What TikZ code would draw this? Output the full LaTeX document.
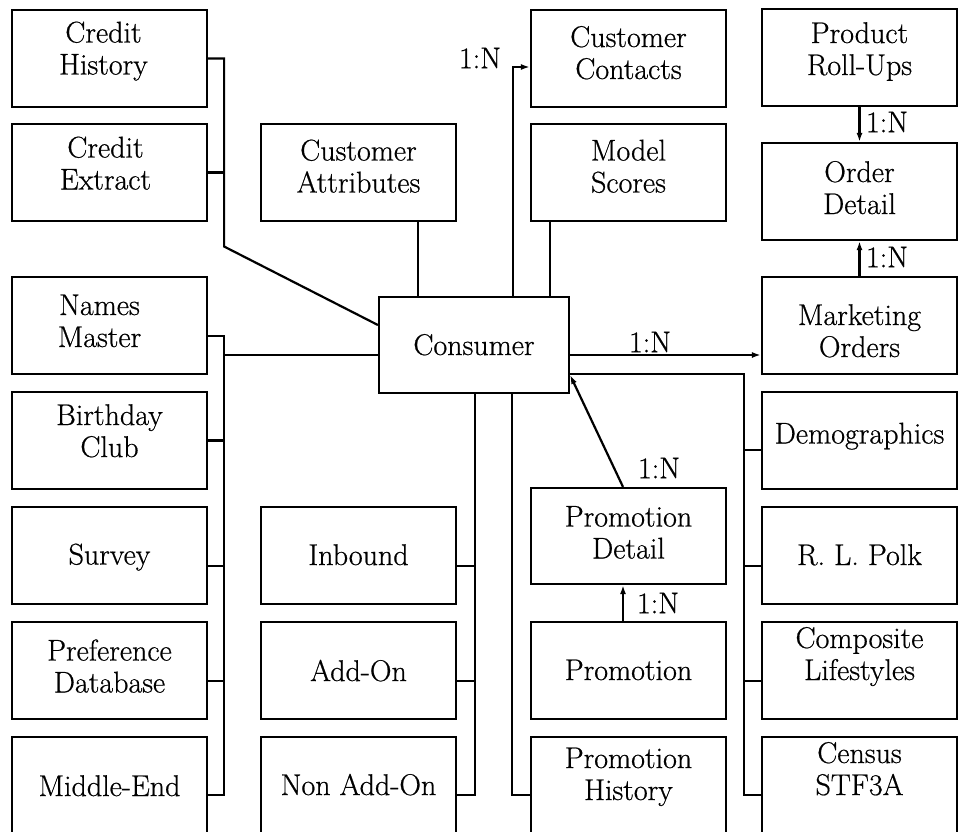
\documentclass[tikz,border=0pt]{standalone}
\usepackage{fontspec}
\setmainfont{Latin Modern Roman}[FakeBold=0.6]
\usetikzlibrary{arrows.meta,calc}

% two centred lines whose reference point is the first baseline
\newcommand{\duo}[2]{\begin{tabular}[t]{@{}c@{}}#1\\#2\end{tabular}}

\tikzset{
  ent/.style={draw, line width=2.2pt, minimum width=195pt, minimum height=97pt,
              inner sep=0pt, text height=21pt, text depth=#1},
  ent/.default=3pt,
  tall/.style={minimum height=143pt},
  link/.style={line width=2.2pt},
  arr/.style={link, -{Latex[length=9pt,width=6pt]}},
  card/.style={inner sep=0pt},
}

\begin{document}
\begin{tikzpicture}[x=1pt, y=-1pt, font=\fontsize{30}{32}\selectfont]
\useasboundingbox (0,0) rectangle (958,831);
\clip (0,0) rectangle (958,831);

% ---- entities ----
\node[ent=1pt, minimum width=190pt, minimum height=96pt] (con) at (474,345) {Consumer};

\node[ent=53pt] (ch)  at (109.5,58.5)  {\hspace*{-12pt}\duo{Credit}{History}};
\node[ent=51pt] (ce)  at (109.5,172.5) {\hspace*{-8pt}\duo{Credit}{Extract}};
\node[ent=42pt] (nm)  at (109.5,325.5) {\hspace*{-20pt}\duo{Names}{Master}};
\node[ent=52pt] (bc)  at (109.5,440.5) {\duo{Birthday}{Club}};
\node[ent=3pt]  (sv)  at (109.5,555.5) {Survey};
\node[ent=41pt] (pdb) at (109.5,670.5) {\duo{Preference}{Database}};
\node[ent=46pt, tall] (me) at (109.5,808.5) {Middle-End};

\node[ent=45pt] (ca)  at (358.5,172.5) {\duo{Customer}{Attributes}};
\node[ent=2pt]  (ib)  at (358.5,555.5) {Inbound};
\node[ent=0pt]  (ao)  at (358.5,670.5) {Add-On};
\node[ent=48pt, tall] (nao) at (358.5,808.5) {Non Add-On};

\node[ent=44pt] (cc)  at (628.5,58.5)  {\duo{Customer}{Contacts}};
\node[ent=45pt] (ms)  at (628.5,172.5) {\duo{Model}{Scores}};
\node[ent=40pt, minimum height=96pt] (prd) at (628.5,536) {\duo{Promotion}{Detail}};
\node[ent=2pt]  (pr)  at (628.5,670.5) {Promotion};
\node[ent=102pt, tall] (ph) at (628.5,808.5) {\duo{Promotion}{History}};

\node[ent=50pt] (pru) at (859.5,57.5)  {\duo{Product}{Roll-Ups}};
\node[ent=40pt] (od)  at (859.5,191.5) {\duo{Order}{Detail}};
\node[ent=22pt] (mo)  at (859.5,325.5) {\duo{Marketing}{Orders}};
\node[ent=15pt] (dm)  at (859.5,440.5) {Demographics};
\node[ent=2pt]  (rlp) at (859.5,555.5) {R. L. Polk};
\node[ent=66pt] (cl)  at (859.5,670.5) {\duo{Composite}{Lifestyles}};
\node[ent=112pt, tall] (cs) at (859.5,808.5) {\duo{Census}{STF3A}};

% ---- left bus ----
\draw[link] (ch.east) -- ++(16,0) -- ++(0,188) -- ($(con.west)+(0,-20)$);
\draw[link] (ce.east) -- ++(16,0);
\coordinate (nmC) at ($(nm.east)+(0,10.5)$);
\coordinate (lb)  at ($(nmC)+(16,0)$);
\coordinate (meC) at ($(me.east)+(0,-13.5)$);
\draw[link] (nmC) -- (lb) -- (lb |- meC) -- (meC);
\draw[link] (bc.east) -- (bc.east -| lb);
\coordinate (svC) at ($(sv.east)+(0,10.5)$);
\draw[link] (svC) -- (svC -| lb);
\coordinate (pdbC) at ($(pdb.east)+(0,10.5)$);
\draw[link] (pdbC) -- (pdbC -| lb);
\coordinate (cwC) at ($(con.west)+(0,10)$);
\draw[link] (cwC) -- (cwC -| lb);

% ---- links above the consumer ----
\coordinate (caC) at ($(ca.south)+(59.5,0)$);
\draw[link] (caC) -- (caC |- con.north);
\coordinate (ccS) at ($(con.north)+(39,0)$);
\coordinate (ccC) at ($(cc.west)+(0,8.5)$);
\draw[arr] (ccS) |- (ccC);
\coordinate (msC) at ($(ms.south)+(-78.5,0)$);
\draw[link] (msC) -- (msC |- con.north);

% ---- order chain ----
\draw[arr] (pru.south) -- (od.north);
\draw[arr] (mo.north) -- (od.south);
\draw[arr] ($(con.east)+(0,10)$) -- ($(mo.west)+(0,29.5)$);

% ---- right bus ----
\coordinate (rb)  at ($(con.east)+(174,29)$);
\coordinate (csC) at ($(cs.west)+(0,-13.5)$);
\draw[link] ($(con.east)+(0,29)$) -- (rb) -- (rb |- csC) -- (csC);
\coordinate (dmC)  at ($(dm.west)+(0,9.5)$);
\coordinate (rlpC) at ($(rlp.west)+(0,10.5)$);
\coordinate (clC)  at ($(cl.west)+(0,10.5)$);
\draw[link] (dmC) -- (dmC -| rb);
\draw[link] (rlpC) -- (rlpC -| rb);
\draw[link] (clC) -- (clC -| rb);

% ---- buses below the consumer ----
\coordinate (bb)   at ($(con.south)+(1,0)$);
\coordinate (naoC) at ($(nao.east)+(0,-13.5)$);
\draw[link] (bb) -- (bb |- naoC) -- (naoC);
\coordinate (ibC) at ($(ib.east)+(0,10.5)$);
\coordinate (aoC) at ($(ao.east)+(0,10.5)$);
\draw[link] (ibC) -- (ibC -| bb);
\draw[link] (aoC) -- (aoC -| bb);
\coordinate (bb2)  at ($(con.south)+(38,0)$);
\coordinate (phC)  at ($(ph.west)+(0,-13.5)$);
\draw[link] (bb2) -- (bb2 |- phC) -- (phC);

% ---- promotion chain ----
\draw[arr] ($(prd.north)+(-5.5,0)$) -- ($(con.east)+(0,30)$);
\draw[arr] ($(pr.north)+(-5.5,0)$) -- ($(prd.south)+(-5.5,0)$);

% ---- cardinalities ----
\node[card] (k1) at (480,58)  {1:N};
\node[card] (k2) at (887,122) {1:N};
\node[card] (k3) at (887,257) {1:N};
\node[card] (k4) at (650,342) {1:N};
\node[card] (k5) at (659,468) {1:N};
\node[card] (k6) at (658,603) {1:N};
\end{tikzpicture}
\end{document}
